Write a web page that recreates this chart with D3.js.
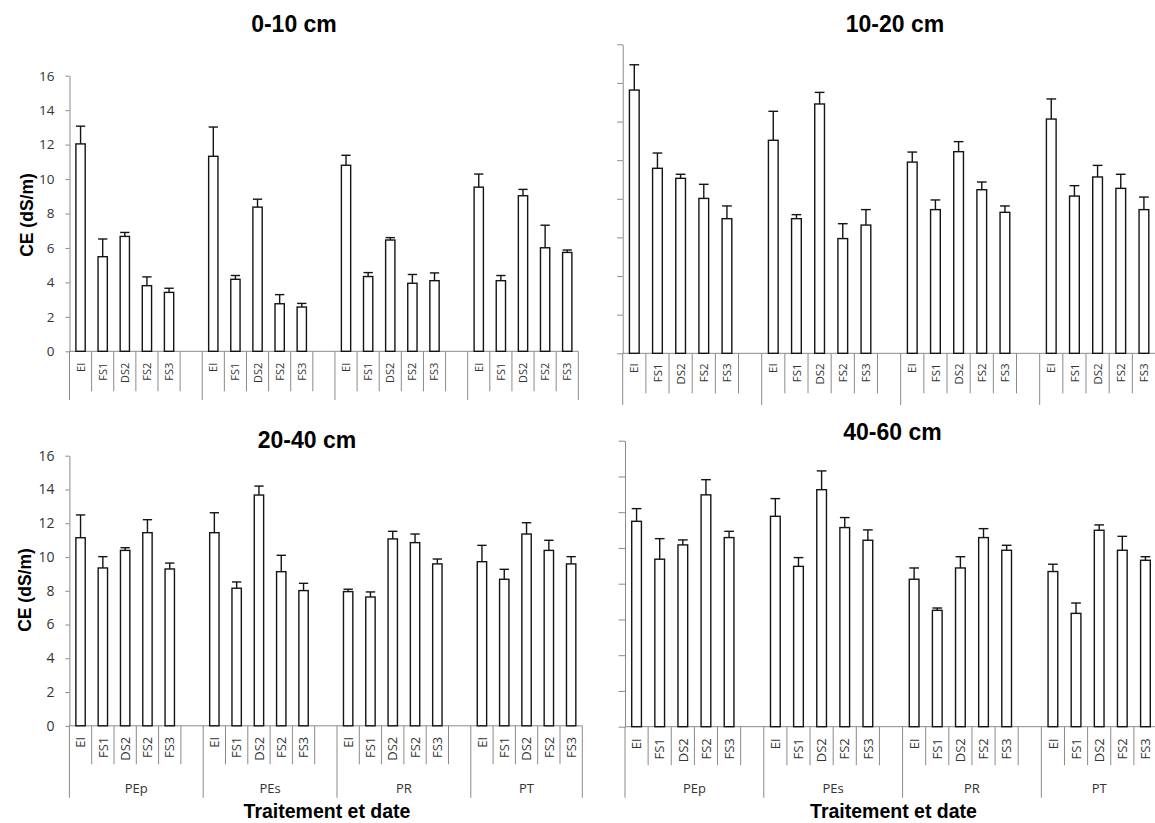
<!DOCTYPE html>
<html>
<head>
<meta charset="utf-8">
<script src="https://cdn.jsdelivr.net/npm/d3@7"></script>
<style>
  html, body { margin: 0; padding: 0; background: #fff; }
  svg { display: block; }
</style>
</head>
<body>
<svg id="chart" width="1155" height="823"></svg>
<script>
// ---------------- DATA ----------------
const categories = ["EI", "FS1", "DS2", "FS2", "FS3"];
const treatments = ["PEp", "PEs", "PR", "PT"];
const yTickValues = [0, 2, 4, 6, 8, 10, 12, 14, 16];
const panelTitles = ["0-10 cm", "10-20 cm", "20-40 cm", "40-60 cm"];
const yAxisTitle = "CE (dS/m)";
const xAxisTitle = "Traitement et date";

// values ordered PEp(EI..FS3), PEs(...), PR(...), PT(...)
const ce_0_10   = [12.04, 5.49, 6.67, 3.81, 3.42,  11.32, 4.18, 8.37, 2.76, 2.57,  10.80, 4.34, 6.46, 3.95, 4.10,  9.53, 4.10, 9.03, 6.01, 5.74];
const err_0_10  = [1.03, 1.03, 0.23, 0.51, 0.24,   1.70, 0.22, 0.46, 0.53, 0.21,   0.58, 0.23, 0.14, 0.51, 0.45,   0.76, 0.30, 0.37, 1.31, 0.14];

const ce_10_20  = [13.63, 9.58, 9.06, 8.02, 6.97,  11.03, 6.97, 12.91, 5.94, 6.64,  9.90, 7.44, 10.44, 8.47, 7.30,  12.13, 8.14, 9.13, 8.54, 7.44];
const err_10_20 = [1.31, 0.79, 0.21, 0.73, 0.66,   1.50, 0.21, 0.60, 0.77, 0.80,   0.52, 0.50, 0.52, 0.40, 0.33,   1.04, 0.54, 0.60, 0.73, 0.65];

const ce_20_40  = [11.14, 9.35, 10.39, 11.44, 9.29,  11.44, 8.15, 13.67, 9.13, 8.01,  7.95, 7.63, 11.07, 10.85, 9.59,  9.72, 8.68, 11.36, 10.39, 9.59];
const err_20_40 = [1.35, 0.67, 0.16, 0.77, 0.35,   1.18, 0.37, 0.53, 0.97, 0.43,   0.14, 0.30, 0.45, 0.51, 0.29,   0.97, 0.59, 0.67, 0.60, 0.43];

const ce_40_60  = [11.49, 9.37, 10.17, 12.97, 10.58,  11.77, 8.97, 13.26, 11.14, 10.43,  8.25, 6.51, 8.88, 10.58, 9.87,  8.68, 6.34, 10.99, 9.87, 9.31];
const err_40_60 = [0.71, 1.15, 0.28, 0.85, 0.35,   0.99, 0.49, 1.05, 0.56, 0.58,   0.63, 0.13, 0.63, 0.50, 0.28,   0.41, 0.58, 0.30, 0.78, 0.20];

// ---------------- LAYOUT ----------------
const panels = [
  { values: ce_0_10, errors: err_0_10, title: panelTitles[0],
    x0: 69.5, x1: 578.3, yZero: 351.3, yTop: 75.7, tick: 4, tickLabels: true, tickFont: 13.5,
    titleX: 294, titleY: 31.7, yTitle: true, yTitleX: 33, yTitleY: 215,
    catOff: 11.4, catFont: 11, sepLen: 40, grpLen: 72, groupLabels: false, groupLabelY: 0, xTitle: false,
    clip: [0, 0, 600, 400] },
  { values: ce_10_20, errors: err_10_20, title: panelTitles[1],
    x0: 622.7, x1: 1155.5, yZero: 353.3, yTop: 44.3, tick: 5.5, tickLabels: false, tickFont: 13.5,
    titleX: 895, titleY: 31.7, yTitle: false,
    catOff: 10, catFont: 11.5, sepLen: 40, grpLen: 72, groupLabels: false, groupLabelY: 0, xTitle: false,
    clip: [600, 0, 555, 405] },
  { values: ce_20_40, errors: err_20_40, title: panelTitles[2],
    x0: 69.4, x1: 582.3, yZero: 725.8, yTop: 455.7, tick: 4, tickLabels: true, tickFont: 14,
    titleX: 307, titleY: 448.3, yTitle: true, yTitleX: 31, yTitleY: 590,
    catOff: 11, catFont: 13, sepLen: 38.5, grpLen: 72, groupLabels: true, groupLabelY: 792.7, xTitle: true, xTitleX: 327, xTitleY: 818,
    clip: [0, 405, 600, 418] },
  { values: ce_40_60, errors: err_40_60, title: panelTitles[3],
    x0: 625, x1: 1157, yZero: 726.7, yTop: 440.7, tick: 6.5, tickLabels: false, tickFont: 14,
    titleX: 892.5, titleY: 440, yTitle: false,
    catOff: 11.6, catFont: 13, sepLen: 38.5, grpLen: 71, groupLabels: true, groupLabelY: 793, xTitle: true, xTitleX: 893.5, xTitleY: 818,
    clip: [600, 405, 555, 418] }
];

const AXIS_COLOR = "#8a8a8a";
const TEXT_COLOR = "#333333";
const BAR_STROKE = "#141414";
const LABEL_FONT = "'Open Sans', 'Noto Sans', sans-serif";
const TITLE_FONT = "'Liberation Sans', Arial, sans-serif";

const svg = d3.select("#chart");
const defs = svg.append("defs");

panels.forEach((cfg, pi) => {
  defs.append("clipPath").attr("id", "clip" + pi)
    .append("rect").attr("x", cfg.clip[0]).attr("y", cfg.clip[1])
    .attr("width", cfg.clip[2]).attr("height", cfg.clip[3]);

  const g = svg.append("g").attr("clip-path", `url(#clip${pi})`);

  // slots (with blank spacer slot between treatment groups)
  const slots = [];
  treatments.forEach((t, ti) => {
    categories.forEach(c => slots.push(t + "|" + c));
    if (ti < treatments.length - 1) slots.push(t + "|blank");
  });
  const x = d3.scaleBand().domain(slots).range([cfg.x0, cfg.x1]).paddingInner(0).paddingOuter(0);
  const y = d3.scaleLinear().domain([0, 16]).range([cfg.yZero, cfg.yTop]);
  const bw = x.bandwidth();
  const barW = bw * 0.42;

  // y axis
  const yAxis = d3.axisLeft(y).tickValues(yTickValues).tickSize(cfg.tick).tickSizeOuter(0)
    .tickPadding(15 - cfg.tick)
    .tickFormat(cfg.tickLabels ? d3.format("d") : () => "");
  const ya = g.append("g").attr("transform", `translate(${cfg.x0},0)`).call(yAxis);
  ya.select(".domain").attr("stroke", AXIS_COLOR).attr("stroke-width", 1);
  ya.selectAll(".tick line").attr("stroke", AXIS_COLOR).attr("stroke-width", 1);
  ya.selectAll(".tick text").attr("fill", TEXT_COLOR)
    .style("font-family", LABEL_FONT).style("font-size", cfg.tickFont + "px");

  // x axis line
  g.append("line").attr("x1", cfg.x0).attr("x2", cfg.x1).attr("y1", cfg.yZero).attr("y2", cfg.yZero)
    .attr("stroke", AXIS_COLOR).attr("stroke-width", 1);

  // category separators (short) and group boundaries (long)
  const groupBounds = [0];
  let acc = 0;
  treatments.forEach((t, ti) => {
    acc += categories.length + (ti < treatments.length - 1 ? 1 : 0);
    groupBounds.push(acc);
  });
  d3.range(slots.length + 1).forEach(i => {
    const xp = cfg.x0 + i * bw;
    const isGroup = groupBounds.includes(i);
    g.append("line").attr("x1", xp).attr("x2", xp)
      .attr("y1", cfg.yZero).attr("y2", cfg.yZero + (isGroup ? cfg.grpLen : cfg.sepLen))
      .attr("stroke", AXIS_COLOR).attr("stroke-width", 1);
  });

  // category labels (rotated)
  treatments.forEach(t => {
    categories.forEach(c => {
      const cx = x(t + "|" + c) + bw / 2;
      g.append("text")
        .attr("transform", `translate(${cx},${cfg.yZero + cfg.catOff}) rotate(-90)`)
        .attr("text-anchor", "end").attr("dy", "0.36em")
        .attr("fill", TEXT_COLOR)
        .style("font-family", LABEL_FONT).style("font-size", cfg.catFont + "px")
        .text(c);
    });
  });

  // group labels
  if (cfg.groupLabels) {
    treatments.forEach((t, ti) => {
      const xa = cfg.x0 + groupBounds[ti] * bw;
      const xb = cfg.x0 + groupBounds[ti + 1] * bw;
      g.append("text").attr("x", (xa + xb) / 2).attr("y", cfg.groupLabelY)
        .attr("text-anchor", "middle").attr("fill", TEXT_COLOR)
        .style("font-family", LABEL_FONT).style("font-size", cfg.catFont + "px")
        .text(t);
    });
  }

  // bars + error bars
  const data = [];
  treatments.forEach((t, ti) => categories.forEach((c, ci) => {
    const idx = ti * categories.length + ci;
    data.push({ key: t + "|" + c, v: cfg.values[idx], e: cfg.errors[idx] });
  }));

  g.selectAll("rect.bar").data(data).enter().append("rect")
    .attr("class", "bar")
    .attr("x", d => x(d.key) + (bw - barW) / 2)
    .attr("y", d => y(d.v))
    .attr("width", barW)
    .attr("height", d => y(0) - y(d.v))
    .attr("fill", "#fff").attr("stroke", BAR_STROKE).attr("stroke-width", 1.4);

  const eb = g.selectAll("g.err").data(data).enter().append("g").attr("class", "err");
  eb.append("line")
    .attr("x1", d => x(d.key) + bw / 2).attr("x2", d => x(d.key) + bw / 2)
    .attr("y1", d => y(d.v)).attr("y2", d => y(d.v + d.e))
    .attr("stroke", BAR_STROKE).attr("stroke-width", 1.4);
  eb.append("line")
    .attr("x1", d => x(d.key) + (bw - barW) / 2).attr("x2", d => x(d.key) + (bw + barW) / 2)
    .attr("y1", d => y(d.v + d.e)).attr("y2", d => y(d.v + d.e))
    .attr("stroke", BAR_STROKE).attr("stroke-width", 1.4);

  // panel title
  g.append("text").attr("x", cfg.titleX).attr("y", cfg.titleY)
    .attr("text-anchor", "middle").attr("fill", "#000")
    .style("font-family", TITLE_FONT).style("font-weight", "bold").style("font-size", "23px")
    .text(cfg.title);

  // y axis title
  if (cfg.yTitle) {
    g.append("text")
      .attr("transform", `translate(${cfg.yTitleX},${cfg.yTitleY}) rotate(-90)`)
      .attr("text-anchor", "middle").attr("fill", "#000")
      .style("font-family", TITLE_FONT).style("font-weight", "bold").style("font-size", "17.5px")
      .text(yAxisTitle);
  }

  // x axis title
  if (cfg.xTitle) {
    g.append("text").attr("x", cfg.xTitleX).attr("y", cfg.xTitleY)
      .attr("text-anchor", "middle").attr("fill", "#000")
      .style("font-family", TITLE_FONT).style("font-weight", "bold").style("font-size", "19.5px")
      .text(xAxisTitle);
  }
});
</script>
</body>
</html>
